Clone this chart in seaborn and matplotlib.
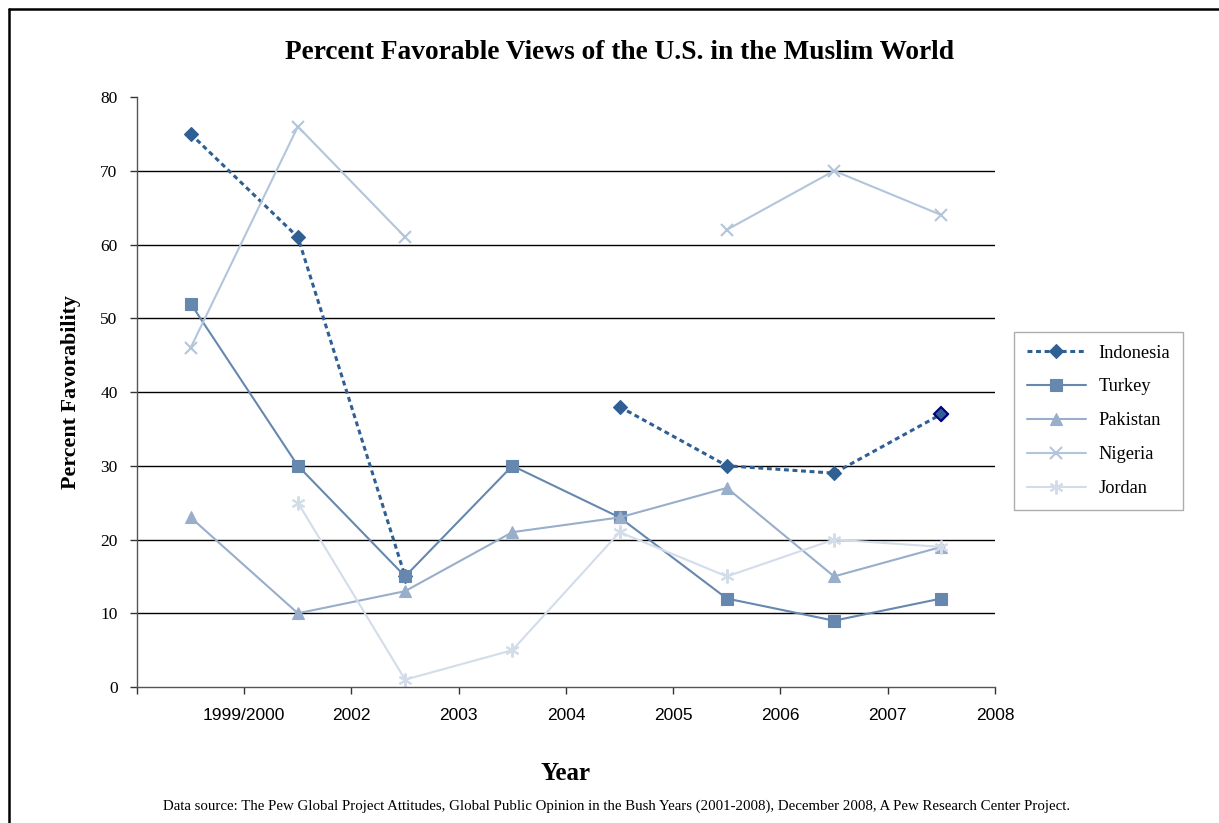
import numpy as np
import pandas as pd
import matplotlib
matplotlib.use("Agg")
import matplotlib.pyplot as plt
from matplotlib.lines import Line2D
import seaborn as sns

years = ["1999/2000", "2002", "2003", "2004", "2005", "2006", "2007", "2008"]
indonesia = [75, 61, 15, np.nan, 38, 30, 29, 37]
turkey = [52, 30, 15, 30, 23, 12, 9, 12]
pakistan = [23, 10, 13, 21, 23, 27, 15, 19]
nigeria = [46, 76, 61, np.nan, np.nan, 62, 70, 64]
jordan = [np.nan, 25, 1, 5, 21, 15, 20, 19]

series = {
    "Indonesia": indonesia,
    "Turkey": turkey,
    "Pakistan": pakistan,
    "Nigeria": nigeria,
    "Jordan": jordan,
}
styles = {
    "Indonesia": dict(color="#2F5F93", marker="D", ms=7, ls=(0, (1.6, 1.2)), lw=2.2),
    "Turkey": dict(color="#6688AF", marker="s", ms=8, ls="-", lw=1.5),
    "Pakistan": dict(color="#98AECA", marker="^", ms=9, ls="-", lw=1.5),
    "Nigeria": dict(color="#B3C5DB", marker="x", ms=9, ls="-", lw=1.5),
    "Jordan": dict(color="#D3DDEA", marker=(6, 2, 0), ms=10, ls="-", lw=1.5),
}

sns.set_theme(style="white")
plt.rcParams["font.family"] = ["Liberation Serif", "DejaVu Serif"]
plt.rcParams["text.color"] = "black"
plt.rcParams["axes.labelcolor"] = "black"
plt.rcParams["xtick.color"] = "black"
plt.rcParams["ytick.color"] = "black"

fig = plt.figure(figsize=(12.19, 8.23), dpi=100)
ax = fig.add_axes([0.1124, 0.1652, 0.7038, 0.7169])

xpos = np.arange(len(years)) + 0.5
for name, vals in series.items():
    st = styles[name]
    df = pd.DataFrame({"x": xpos, "y": vals})
    # split into contiguous segments (gaps are not connected)
    seg_id = df["y"].isna().cumsum()
    for _, seg in df[df["y"].notna()].groupby(seg_id[df["y"].notna()]):
        mew = 1.5 if st["marker"] in ("x",) or isinstance(st["marker"], tuple) else 0.8
        sns.lineplot(data=seg, x="x", y="y", ax=ax, color=st["color"],
                     marker=st["marker"], markersize=st["ms"], linestyle=st["ls"],
                     linewidth=st["lw"], markeredgecolor=st["color"],
                     markeredgewidth=mew, legend=False, errorbar=None)

# final Indonesia point with dark navy edge
ax.plot([xpos[-1]], [indonesia[-1]], marker="D", ms=7, color="#2F5F93",
        markeredgecolor="#000080", markeredgewidth=1.5, ls="none")

ax.set_xlim(0, 8)
ax.set_ylim(0, 80)
ax.set_xticks(np.arange(0, 9))
ax.set_xticklabels([""] + years, fontfamily="Liberation Sans", fontsize=12.5)
ax.set_yticks(np.arange(0, 81, 10))
ax.set_yticklabels([str(v) for v in range(0, 81, 10)], fontsize=12.5)
for v in range(10, 80, 10):
    ax.axhline(v, color="black", lw=1.0, zorder=0)
ax.grid(False)
for s in ["top", "right"]:
    ax.spines[s].set_visible(False)
for s in ["left", "bottom"]:
    ax.spines[s].set_color("#555555")
    ax.spines[s].set_linewidth(1.0)
ax.tick_params(axis="both", which="both", direction="out", length=5, width=1,
               color="#333333", bottom=True, left=True, labelcolor="black")
ax.tick_params(axis="x", pad=10)
ax.tick_params(axis="y", pad=9)
ax.set_xlabel("Year", fontsize=18, fontweight="bold", labelpad=28)
ax.set_ylabel("Percent Favorability", fontsize=15.8, fontweight="bold", labelpad=14)

fig.text(0.508, 0.936, "Percent Favorable Views of the U.S. in the Muslim World",
         ha="center", va="center", fontsize=19.7, fontweight="bold")
fig.text(0.506, 0.0207,
         "Data source: The Pew Global Project Attitudes, Global Public Opinion in the Bush Years (2001-2008), December 2008, A Pew Research Center Project.",
         ha="center", va="center", fontsize=10.7)

handles = []
for name in series:
    st = styles[name]
    mew = 1.5 if st["marker"] == "x" or isinstance(st["marker"], tuple) else 0.8
    handles.append(Line2D([0], [0], color=st["color"], marker=st["marker"],
                          markersize=st["ms"], linestyle=st["ls"], linewidth=st["lw"],
                          markeredgecolor=st["color"], markeredgewidth=mew))
leg = fig.legend(handles, list(series.keys()), loc="upper left",
                 bbox_to_anchor=(0.832, 0.597), frameon=True, fancybox=False,
                 fontsize=13.2, handlelength=3.2, labelspacing=0.92,
                 borderpad=0.7, handletextpad=0.7, borderaxespad=0)
leg.get_frame().set_edgecolor("#999999")
leg.get_frame().set_linewidth(1.0)

# outer frame (left & top edges visible)
fig.add_artist(Line2D([0.0075, 0.0075], [0, 0.989], color="black", lw=1.8,
                      transform=fig.transFigure))
fig.add_artist(Line2D([0.0075, 1.0], [0.989, 0.989], color="black", lw=1.8,
                      transform=fig.transFigure))

fig.savefig("out.png", dpi=100, facecolor="white")
